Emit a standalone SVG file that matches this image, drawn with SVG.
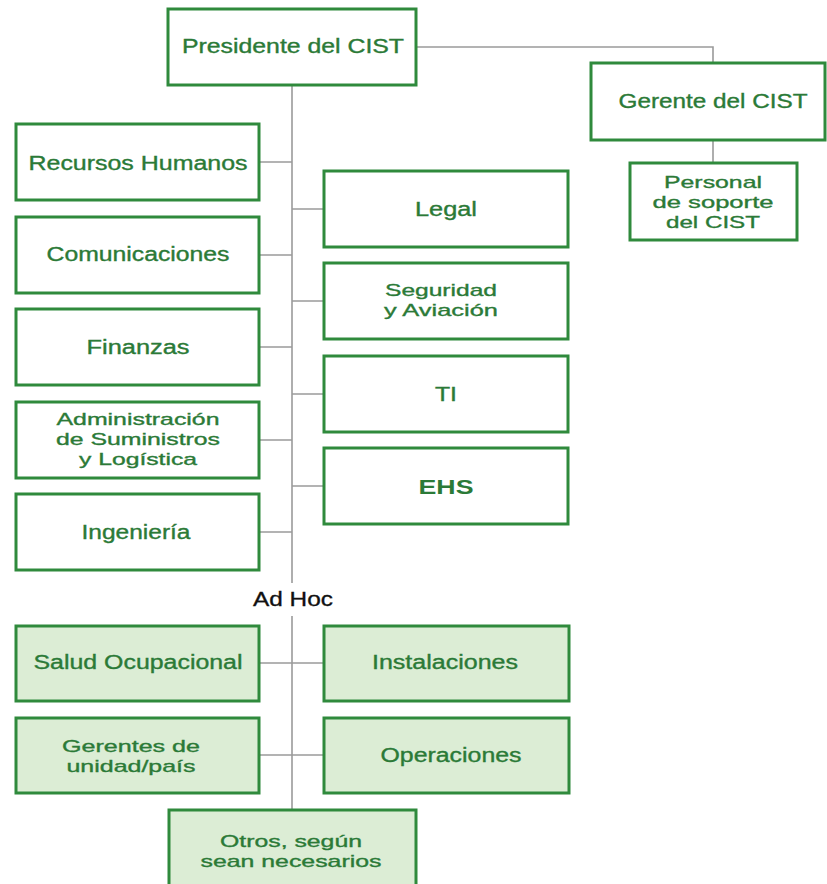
<svg xmlns="http://www.w3.org/2000/svg" width="827" height="884" viewBox="0 0 827 884">
  <style>
    .box { fill: #ffffff; stroke: #2f8a3c; stroke-width: 3; }
    .adhoc { fill: #dcedd5; stroke: #2f8a3c; stroke-width: 3; }
    .lbl { font-family: "Liberation Sans", Arial, sans-serif; font-size: 19.5px; fill: #2b7a37; stroke: #2b7a37; stroke-width: 0.35; text-anchor: middle; }
    .ml { font-size: 17px; }
    .bold { font-weight: bold; stroke-width: 0; }
    .plain { font-family: "Liberation Sans", Arial, sans-serif; font-size: 19.5px; fill: #111111; stroke: #111111; stroke-width: 0.3; text-anchor: middle; }
    .wire { fill: none; stroke: #9a9a9a; stroke-width: 1.6; }
  </style>
  <rect width="827" height="884" fill="#ffffff"/>

  <!-- connectors -->
  <g id="connectors">
    <path class="wire" d="M416 47 H713 V63"/>
    <path class="wire" d="M713 140 V163"/>
    <path class="wire" d="M292 85 V583"/>
    <path class="wire" d="M292 616 V810"/>
    <path class="wire" d="M259 162 H292 M259 255 H292 M259 347 H292 M259 440 H292 M259 532 H292"/>
    <path class="wire" d="M292 209 H324 M292 301 H324 M292 394 H324 M292 486 H324"/>
    <path class="wire" d="M259 663 H324 M259 755 H324"/>
  </g>

  <g id="presidente">
    <rect class="box" x="168" y="9" width="248" height="76"/>
    <text class="lbl" x="293" y="53" textLength="222" lengthAdjust="spacingAndGlyphs">Presidente del CIST</text>
  </g>
  <g id="gerente">
    <rect class="box" x="591" y="63" width="234" height="77"/>
    <text class="lbl" x="713" y="108" textLength="189" lengthAdjust="spacingAndGlyphs">Gerente del CIST</text>
  </g>
  <g id="personal">
    <rect class="box" x="630" y="163" width="167" height="77"/>
    <text class="lbl ml" x="713" y="188" textLength="98" lengthAdjust="spacingAndGlyphs">Personal</text>
    <text class="lbl ml" x="713" y="208" textLength="121" lengthAdjust="spacingAndGlyphs">de soporte</text>
    <text class="lbl ml" x="713" y="228" textLength="94" lengthAdjust="spacingAndGlyphs">del CIST</text>
  </g>

  <g id="recursos-humanos">
    <rect class="box" x="16" y="124" width="243" height="76"/>
    <text class="lbl" x="138" y="170" textLength="219" lengthAdjust="spacingAndGlyphs">Recursos Humanos</text>
  </g>
  <g id="comunicaciones">
    <rect class="box" x="16" y="217" width="243" height="76"/>
    <text class="lbl" x="138" y="261" textLength="183" lengthAdjust="spacingAndGlyphs">Comunicaciones</text>
  </g>
  <g id="finanzas">
    <rect class="box" x="16" y="309" width="243" height="76"/>
    <text class="lbl" x="138" y="354" textLength="103" lengthAdjust="spacingAndGlyphs">Finanzas</text>
  </g>
  <g id="administracion">
    <rect class="box" x="16" y="402" width="243" height="76"/>
    <text class="lbl ml" x="138" y="425" textLength="163" lengthAdjust="spacingAndGlyphs">Administración</text>
    <text class="lbl ml" x="138" y="445" textLength="164" lengthAdjust="spacingAndGlyphs">de Suministros</text>
    <text class="lbl ml" x="138" y="465" textLength="118" lengthAdjust="spacingAndGlyphs">y Logística</text>
  </g>
  <g id="ingenieria">
    <rect class="box" x="16" y="494" width="243" height="76"/>
    <text class="lbl" x="136" y="539" textLength="109" lengthAdjust="spacingAndGlyphs">Ingeniería</text>
  </g>

  <g id="legal">
    <rect class="box" x="324" y="171" width="244" height="76"/>
    <text class="lbl" x="446" y="216" textLength="62" lengthAdjust="spacingAndGlyphs">Legal</text>
  </g>
  <g id="seguridad">
    <rect class="box" x="324" y="263" width="244" height="76"/>
    <text class="lbl ml" x="441" y="296" textLength="112" lengthAdjust="spacingAndGlyphs">Seguridad</text>
    <text class="lbl ml" x="441" y="316" textLength="114" lengthAdjust="spacingAndGlyphs">y Aviación</text>
  </g>
  <g id="ti">
    <rect class="box" x="324" y="356" width="244" height="76"/>
    <text class="lbl" x="446" y="401" textLength="22" lengthAdjust="spacingAndGlyphs">TI</text>
  </g>
  <g id="ehs">
    <rect class="box" x="324" y="448" width="244" height="76"/>
    <text class="lbl bold" x="446" y="494" textLength="55" lengthAdjust="spacingAndGlyphs">EHS</text>
  </g>

  <text class="plain" x="293" y="606" textLength="80" lengthAdjust="spacingAndGlyphs">Ad Hoc</text>

  <g id="salud-ocupacional">
    <rect class="adhoc" x="16" y="626" width="243" height="75"/>
    <text class="lbl" x="138" y="669" textLength="209" lengthAdjust="spacingAndGlyphs">Salud Ocupacional</text>
  </g>
  <g id="instalaciones">
    <rect class="adhoc" x="324" y="626" width="245" height="75"/>
    <text class="lbl" x="445" y="669" textLength="146" lengthAdjust="spacingAndGlyphs">Instalaciones</text>
  </g>
  <g id="gerentes-unidad">
    <rect class="adhoc" x="16" y="718" width="243" height="75"/>
    <text class="lbl ml" x="131" y="752" textLength="138" lengthAdjust="spacingAndGlyphs">Gerentes de</text>
    <text class="lbl ml" x="131" y="772" textLength="129" lengthAdjust="spacingAndGlyphs">unidad/país</text>
  </g>
  <g id="operaciones">
    <rect class="adhoc" x="324" y="718" width="245" height="75"/>
    <text class="lbl" x="451" y="762" textLength="141" lengthAdjust="spacingAndGlyphs">Operaciones</text>
  </g>
  <g id="otros">
    <rect class="adhoc" x="169" y="810" width="247" height="80"/>
    <text class="lbl ml" x="291" y="847" textLength="142" lengthAdjust="spacingAndGlyphs">Otros, según</text>
    <text class="lbl ml" x="291" y="867" textLength="181" lengthAdjust="spacingAndGlyphs">sean necesarios</text>
  </g>
</svg>
